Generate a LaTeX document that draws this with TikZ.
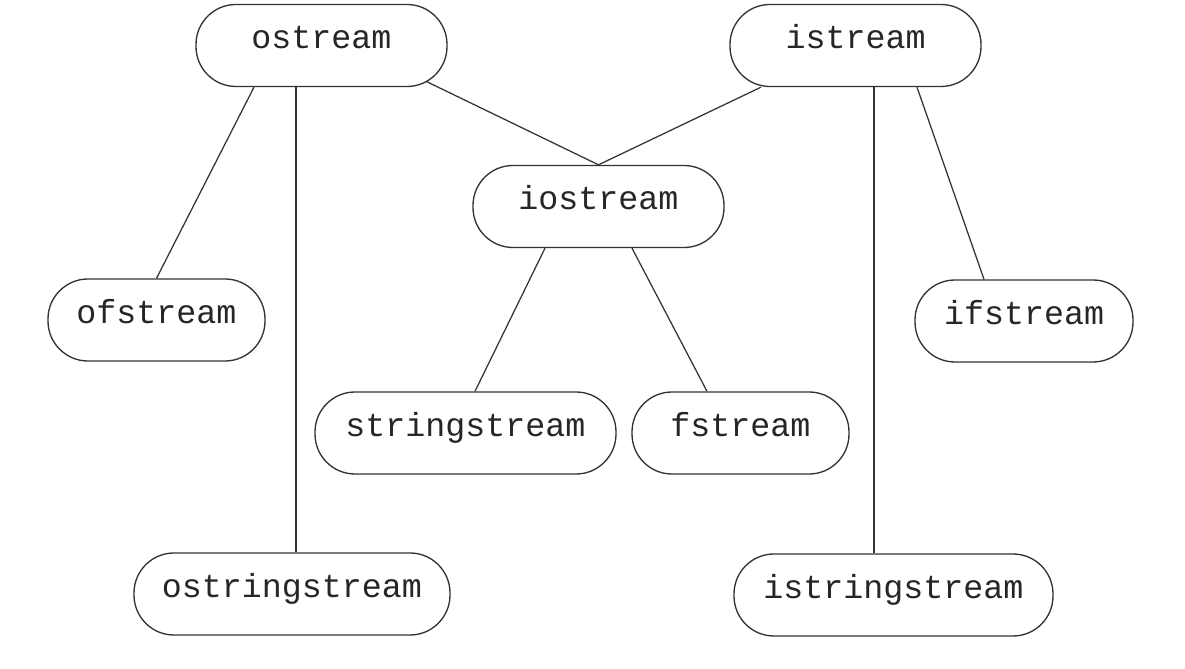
\documentclass[tikz,border=0pt]{standalone}
\usepackage{fontspec}
\setmonofont{Liberation Mono}
\usetikzlibrary{calc,backgrounds}
\tikzset{
  sbox/.style={draw=black!80, line width=0.8pt, fill=white, rounded corners=24pt,
    minimum width=#1*0.6pt, minimum height=49.2pt, inner sep=0pt,
    text height=12pt, text depth=8pt, text=black!85,
    font=\ttfamily\fontsize{20pt}{24pt}\selectfont},
  conn/.style={draw=black!80, line width=0.75pt}
}
\begin{document}
\begin{tikzpicture}[x=0.6pt,y=-0.6pt]
\useasboundingbox (0,0) rectangle (1185,669);
% nodes
\node[sbox=251] (ostream) at (321.5,45.5) {ostream};
\node[sbox=251] (istream) at (855.5,45.5) {istream};
\node[sbox=251] (iostream) at (598.5,206.5) {iostream};
\node[sbox=217] (ofstream) at (156.5,320) {ofstream};
\node[sbox=218] (ifstream) at (1024,321) {ifstream};
\node[sbox=301] (stringstream) at (465.5,433) {stringstream};
\node[sbox=217] (fstream) at (740.5,433) {fstream};
\node[sbox=316] (ostringstream) at (292,594) {ostringstream};
\node[sbox=319] (istringstream) at (893.5,595) {istringstream};
% connectors
\begin{scope}[on background layer]
\fill[white] (0,0) rectangle (1185,669);
\draw[conn] (ostream.south -| 254,0) -- (ofstream.north);
\draw[conn] (ostream.south -| 296,0) -- (ostringstream.north -| 296,0);
\draw[conn] ($(ostream.center)+(78,23)$) -- (iostream.north);
\draw[conn] (istream.south -| 761,0) -- (iostream.north);
\draw[conn] (istream.south -| 874,0) -- (istringstream.north -| 874,0);
\draw[conn] (istream.south -| 917,0) -- (ifstream.north -| 984,0);
\draw[conn] (iostream.south -| 545,0) -- (stringstream.north -| 475,0);
\draw[conn] (iostream.south -| 632,0) -- (fstream.north -| 707,0);
\end{scope}
\end{tikzpicture}
\end{document}
